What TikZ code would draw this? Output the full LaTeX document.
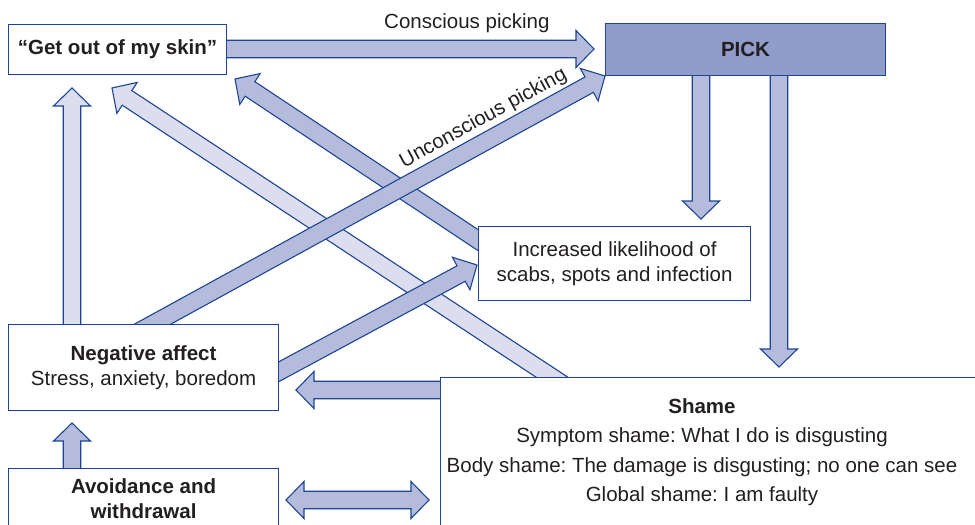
\documentclass[tikz,border=0pt]{standalone}
\usepackage{fontspec}
\setmainfont{Liberation Sans}
\frenchspacing
\definecolor{skline}{RGB}{28,69,150}
\definecolor{skpale}{RGB}{220,222,239}
\definecolor{skmid}{RGB}{181,187,219}
\definecolor{skdark}{RGB}{144,156,201}
\definecolor{sktext}{RGB}{35,31,32}
\usetikzlibrary{calc,backgrounds}
\tikzset{
    box/.style={
        draw=skline, line width=1.1pt, fill=#1,
        align=center, text=sktext, inner sep=0pt, anchor=north west
    },
    box/.default=white,
    blockarrow/.style={
        draw=skline, line width=1.1pt, line join=miter
    },
    lbl/.style={text=sktext, inner sep=0pt}
}
% block arrow sizes
\newcommand{\arrsw}{8.75pt}
\newcommand{\arrhw}{18.5pt}
\newcommand{\arrhl}{18pt}
% single block arrow: fill, from, to
\newcommand{\barrow}[3]{%
  \coordinate (ba-n) at ($(#3)!\arrhl!(#2)$);
  \filldraw[blockarrow, fill=#1]
    ($(#2)!\arrsw!90:(#3)$) -- ($(ba-n)!\arrsw!90:(#3)$) --
    ($(ba-n)!\arrhw!90:(#3)$) -- (#3) -- ($(ba-n)!\arrhw!-90:(#3)$) --
    ($(ba-n)!\arrsw!-90:(#3)$) -- ($(#2)!\arrsw!-90:(#3)$) -- cycle;}
% double block arrow: fill, one end, other end
\newcommand{\dbarrow}[3]{%
  \coordinate (ba-m) at ($(#2)!\arrhl!(#3)$);
  \coordinate (ba-n) at ($(#3)!\arrhl!(#2)$);
  \filldraw[blockarrow, fill=#1]
    (#2) -- ($(ba-m)!\arrhw!90:(#3)$) -- ($(ba-m)!\arrsw!90:(#3)$) --
    ($(ba-n)!\arrsw!-90:(#2)$) -- ($(ba-n)!\arrhw!-90:(#2)$) -- (#3) --
    ($(ba-n)!\arrhw!90:(#2)$) -- ($(ba-n)!\arrsw!90:(#2)$) --
    ($(ba-m)!\arrsw!-90:(#3)$) -- ($(ba-m)!\arrhw!-90:(#3)$) -- cycle;}

\begin{document}
\begin{tikzpicture}[x=1pt, y=-1pt, font=\fontsize{20.5}{25}\selectfont]
\useasboundingbox (0,0) rectangle (975,525);
\clip (0,0) rectangle (975,525);
% boxes
\node[box, minimum width=218pt, minimum height=50pt] (geto) at (8,24)
  {\textbf{“Get out of my skin”}};
\node[box=skdark, minimum width=280pt, minimum height=52pt] (pick) at (605,23)
  {\textbf{PICK}};
\node[box, minimum width=272pt, minimum height=74pt] (incr) at (478,226)
  {Increased likelihood of\\scabs, spots and infection};
\node[box, minimum width=270pt, minimum height=86pt] (nega) at (8,324)
  {\textbf{Negative affect}\\Stress, anxiety, boredom};
\node[box, minimum width=270pt, minimum height=60pt] (avoid) at (8,468)
  {\textbf{Avoidance and}\\\textbf{withdrawal}};
\node[box, minimum width=600pt, minimum height=160pt] (shame) at (440,377) {};
\node[lbl, align=center, font=\fontsize{20.5}{29.5}\selectfont] (shtxt) at (702,452)
  {\textbf{Shame}\\Symptom shame: What I do is disgusting\\
   Body shame: The damage is disgusting; no one can see\\Global shame: I am faulty};
% arrow ends
\coordinate (conA) at (220,49);  \coordinate (conB) at (594,49);
\coordinate (piA) at (701,70);   \coordinate (piB) at (701,219);
\coordinate (psA) at (779,70);   \coordinate (psB) at (779,367);
\coordinate (ngA) at (72,330);   \coordinate (ngB) at (72,88);
\coordinate (avA) at (72,474);   \coordinate (avB) at (72,423);
\coordinate (shA) at (446,390);  \coordinate (shB) at (296,390);
\coordinate (dbA) at (286,500);  \coordinate (dbB) at (429,500);
\coordinate (unA) at (131,336);  \coordinate (unB) at (605,76);
\coordinate (sgA) at (573,391);  \coordinate (sgB) at (112,88);
\coordinate (igA) at (499,254);  \coordinate (igB) at (235,79);
\coordinate (niA) at (256,384);  \coordinate (niB) at (477,265);
% arrows behind the boxes
\begin{scope}[on background layer]
\barrow{skpale}{ngA}{ngB}
\barrow{skpale}{sgA}{sgB}
\barrow{skmid}{igA}{igB}
\barrow{skmid}{unA}{unB}
\barrow{skmid}{niA}{niB}
\barrow{skmid}{conA}{conB}
\barrow{skmid}{piA}{piB}
\barrow{skmid}{psA}{psB}
\barrow{skmid}{avA}{avB}
\barrow{skmid}{shA}{shB}
\dbarrow{skmid}{dbA}{dbB}
\end{scope}
% labels
\path (conA) -- (conB) node[lbl, pos=0.66, above=16.5pt] {Conscious picking};
\path (unA) -- (unB) node[lbl, sloped, pos=0.765, above=11.5pt] {Unconscious picking};
\end{tikzpicture}
\end{document}
